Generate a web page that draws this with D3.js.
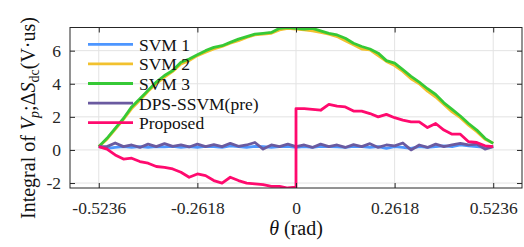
<!DOCTYPE html>
<html><head><meta charset="utf-8">
<script src="https://cdn.jsdelivr.net/npm/d3@7"></script>
<style>body{margin:0;background:#fff}svg{display:block}
svg text{font-family:"Liberation Serif","DejaVu Serif",serif !important;}</style>
</head><body>
<svg id="c" width="524" height="247"></svg>
<script>
const theta = [-0.5236,-0.5018,-0.4800,-0.4581,-0.4363,-0.4145,-0.3927,-0.3709,-0.3491,-0.3272,-0.3054,-0.2836,-0.2618,-0.2400,-0.2182,-0.1963,-0.1745,-0.1527,-0.1309,-0.1091,-0.0873,-0.0654,-0.0436,-0.0218,0,
0.0218,0.0436,0.0654,0.0873,0.1091,0.1309,0.1527,0.1745,0.1963,0.2182,0.2400,0.2618,0.2836,0.3054,0.3272,0.3491,0.3709,0.3927,0.4145,0.4363,0.4581,0.4800,0.5018,0.5236];
const thetaProposed = [-0.5236,-0.5018,-0.4800,-0.4581,-0.4363,-0.4145,-0.3927,-0.3709,-0.3491,-0.3272,-0.3054,-0.2836,-0.2618,-0.2400,-0.2182,-0.1963,-0.1745,-0.1527,-0.1309,-0.1091,-0.0873,-0.0654,-0.0436,-0.0218,0,0,
0.0218,0.0436,0.0654,0.0873,0.1091,0.1309,0.1527,0.1745,0.1963,0.2182,0.2400,0.2618,0.2836,0.3054,0.3272,0.3491,0.3709,0.3927,0.4145,0.4363,0.4581,0.4800,0.5018,0.5236];
const svm1 = [0.2,0.1,0.15,0.2,0.15,0.2,0.15,0.2,0.18,0.22,0.15,0.2,0.15,0.22,0.2,0.15,0.25,0.2,0.15,0.22,0.2,0.15,0.2,0.22,0.15,0.2,0.15,0.22,0.2,0.18,0.15,0.22,0.2,0.15,0.2,0.1,0.2,0.15,0.1,0.2,0.15,0.2,0.25,0.2,0.3,0.25,0.2,0.15,0.2];
const svm2 = [0.2,0.65,1.25,1.85,2.5,3.0,3.55,4.0,4.4,4.75,5.2,5.4,5.7,5.9,6.1,6.25,6.45,6.6,6.8,6.95,7.0,7.05,7.25,7.35,7.3,7.25,7.2,7.1,7.0,6.85,6.6,6.35,6.1,6.05,5.7,5.35,5.1,4.75,4.3,4.0,3.55,3.2,2.75,2.3,1.95,1.5,1.1,0.65,0.4];
const svm3 = [0.2,0.7,1.3,1.9,2.6,3.1,3.6,4.1,4.5,4.8,5.3,5.5,5.75,6.0,6.2,6.3,6.5,6.7,6.85,7.0,7.05,7.1,7.35,7.4,7.35,7.3,7.35,7.2,7.05,6.95,6.75,6.45,6.25,6.1,5.85,5.4,5.25,4.85,4.45,4.1,3.7,3.35,2.85,2.45,2.05,1.6,1.2,0.7,0.4];
const dps = [0.2,0.2,0.42,0.2,0.3,0.15,0.35,0.2,0.38,0.22,0.3,0.18,0.35,0.2,0.32,0.2,0.4,0.22,0.3,0.45,0.05,0.3,0.2,0.35,0.2,0.3,0.15,0.35,0.2,0.3,0.15,0.32,0.2,0.38,0.15,0.3,0.25,0.42,0.0,0.3,0.15,0.35,0.2,0.3,0.4,0.3,0.35,0.05,0.2];
const proposed = [0.2,0.05,-0.3,-0.55,-0.5,-0.7,-0.8,-1.0,-1.05,-1.15,-1.35,-1.65,-1.45,-1.55,-1.85,-2.0,-1.65,-1.85,-2.0,-2.05,-2.1,-2.2,-2.2,-2.3,-2.25,2.5,
2.5,2.45,2.4,2.75,2.65,2.6,2.35,2.35,2.2,2.0,2.15,1.95,1.8,1.7,1.7,1.35,1.6,1.2,0.95,0.95,0.5,0.45,0.25,0.2];
const seriesNames = ["SVM 1","SVM 2","SVM 3","DPS-SSVM(pre)","Proposed"];
const seriesColors = ["#4d96ff","#f2c12e","#36c936","#6a5aa0","#ff0a6e"];
const xTicks = [-0.5236,-0.2618,0,0.2618,0.5236];
const xTickLabels = ["-0.5236","-0.2618","0","0.2618","0.5236"];
const yTicks = [-2,0,2,4,6];
const yTickLabels = ["-2","0","2","4","6"];

const series = [
  {name:seriesNames[0], color:seriesColors[0], x:theta, y:svm1},
  {name:seriesNames[1], color:seriesColors[1], x:theta, y:svm2},
  {name:seriesNames[2], color:seriesColors[2], x:theta, y:svm3},
  {name:seriesNames[3], color:seriesColors[3], x:theta, y:dps},
  {name:seriesNames[4], color:seriesColors[4], x:thetaProposed, y:proposed}
];

const L=70, R=522, T=27.5, B=188;
const x = d3.scaleLinear().domain([-0.6,0.6]).range([L,R]);
const y = d3.scaleLinear().domain([-2.3,7.4]).range([B,T]);
const svg = d3.select("#c");

svg.append("defs").append("clipPath").attr("id","clip")
  .append("rect").attr("x",L).attr("y",T).attr("width",R-L).attr("height",B-T);

// grid
const grid = svg.append("g");
grid.selectAll(".gx").data(xTicks).join("line")
  .attr("x1",d=>x(d)).attr("x2",d=>x(d)).attr("y1",T).attr("y2",B)
  .attr("stroke","#e3e3e3").attr("stroke-width",1);
grid.selectAll(".gy").data(yTicks).join("line")
  .attr("x1",L).attr("x2",R).attr("y1",d=>y(d)).attr("y2",d=>y(d))
  .attr("stroke","#e3e3e3").attr("stroke-width",1);

// lines
const line = d3.line().x(d=>x(d[0])).y(d=>y(d[1]));
const plot = svg.append("g").attr("clip-path","url(#clip)");
series.forEach(s=>{
  plot.append("path").datum(s.x.map((v,i)=>[v,s.y[i]]))
    .attr("d",line).attr("fill","none").attr("stroke",s.color)
    .attr("stroke-width",2.8).attr("stroke-linejoin","round");
});

// axes (inward ticks)
const tickLen=5;
function styleAxis(g){
  g.attr("font-family",null);
  g.select(".domain").remove();
  g.selectAll(".tick line").attr("stroke","#262626");
  g.selectAll("text").attr("font-size",17.5).attr("fill","#262626");
}
svg.append("g").attr("transform",`translate(0,${B})`)
  .call(d3.axisBottom(x).tickValues(xTicks).tickFormat((d,i)=>xTickLabels[i]).tickSize(-tickLen).tickPadding(14))
  .call(styleAxis);
svg.append("g").attr("transform",`translate(0,${T})`)
  .call(d3.axisTop(x).tickValues(xTicks).tickFormat("").tickSize(-tickLen))
  .call(styleAxis);
svg.append("g").attr("transform",`translate(${L},0)`)
  .call(d3.axisLeft(y).tickValues(yTicks).tickFormat((d,i)=>yTickLabels[i]).tickSize(-tickLen).tickPadding(9))
  .call(styleAxis);
svg.append("g").attr("transform",`translate(${R},0)`)
  .call(d3.axisRight(y).tickValues(yTicks).tickFormat("").tickSize(-tickLen))
  .call(styleAxis);

// frame
svg.append("rect").attr("x",L).attr("y",T).attr("width",R-L).attr("height",B-T)
  .attr("fill","none").attr("stroke","#262626").attr("stroke-width",1);

// legend
const lg = svg.append("g");
series.forEach((s,i)=>{
  const yy = 44.3 + i*19.6;
  lg.append("line").attr("x1",88).attr("x2",133).attr("y1",yy).attr("y2",yy)
    .attr("stroke",s.color).attr("stroke-width",2.8);
  lg.append("text").attr("x",139).attr("y",yy+6.5).text(s.name)
    .attr("font-size",17.5).attr("fill","#111");
});

// x label
const xl = svg.append("text").attr("x",296).attr("y",235).attr("text-anchor","middle")
  .attr("font-size",20).attr("fill","#111");
xl.append("tspan").attr("font-style","italic").text("θ");
xl.append("tspan").text(" (rad)");

// y label
const yl = svg.append("text").attr("transform","translate(35,118) rotate(-90)")
  .attr("text-anchor","middle").attr("font-size",20).attr("fill","#111");
yl.append("tspan").text("Integral of ");
yl.append("tspan").attr("font-style","italic").text("V");
yl.append("tspan").attr("font-style","italic").attr("font-size",14).attr("dy",4).text("p");
yl.append("tspan").attr("dy",-4).text(";Δ");
yl.append("tspan").attr("font-style","italic").text("S");
yl.append("tspan").attr("font-size",14).attr("dy",4).text("dc");
yl.append("tspan").attr("dy",-4).text("(V·us)");
</script>
</body></html>
